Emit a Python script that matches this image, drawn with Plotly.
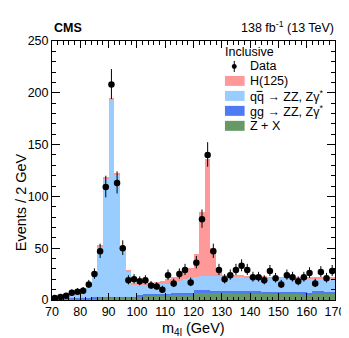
import plotly.graph_objects as go

# ---------------- data ----------------
bin_low = list(range(70, 170, 2))  # 50 bins of 2 GeV

data_counts = [2, 3, 4, 7, 8, 9, 15, 25, 47, 109,
               208, 113, 50, 19, 20, 18, 19, 14, 13, 10,
               24, 16, 25, 29, 17, 36, 78, 140, 47, 29,
               20, 24, 29, 33, 29, 22, 22, 19, 28, 21,
               15, 24, 22, 18, 22, 26, 16, 27, 21, 28]

zx = [1.2, 1.3, 1.4, 1.5, 1.6, 1.7, 1.8, 1.9, 2.0, 2.0,
      2.0, 2.0, 2.0, 2.0, 2.2, 3.5, 4.5, 4.5, 4.5, 4.5,
      5.0, 5.0, 5.0, 5.0, 5.5, 7.5, 7.5, 7.5, 7.0, 7.0,
      7.0, 7.0, 6.5, 6.5, 6.5, 6.5, 6.5, 6.0, 6.0, 6.0,
      6.0, 6.0, 6.0, 6.0, 5.5, 5.5, 6.5, 6.5, 6.0, 6.0]

ggzz = [0.3, 0.3, 0.4, 0.4, 0.5, 0.5, 0.6, 0.7, 0.8, 0.9,
        1.0, 0.9, 0.8, 0.8, 0.8, 1.0, 1.0, 1.1, 1.1, 1.2,
        1.2, 1.3, 1.3, 1.4, 1.4, 1.8, 1.8, 1.8, 1.8, 1.8,
        1.8, 1.8, 1.8, 1.8, 1.8, 1.8, 1.8, 1.8, 1.8, 1.8,
        1.8, 1.8, 1.8, 1.8, 1.8, 1.5, 1.8, 1.8, 1.8, 1.8]

qqzz = [2.0, 2.4, 2.7, 3.6, 4.9, 6.8, 10.6, 23.4, 49.2, 114.1,
        191.0, 118.1, 47.2, 24.7, 12.0, 10.0, 9.0, 8.9, 8.9, 9.3,
        9.3, 10.7, 12.2, 13.6, 14.6, 13.2, 13.7, 13.7, 14.2, 14.2,
        14.2, 13.7, 14.2, 14.2, 13.7, 13.7, 13.7, 14.2, 13.7, 13.7,
        13.7, 13.7, 13.7, 13.2, 13.7, 14.0, 12.7, 12.7, 13.2, 13.2]

higgs = [0.1, 0.1, 0.1, 0.1, 0.1, 0.1, 0.2, 0.3, 0.6, 0.8,
         1.0, 0.8, 0.6, 1.0, 0.8, 1.0, 1.5, 2.0, 2.5, 3.0,
         4.5, 5.5, 6.5, 8.0, 9.0, 22.0, 62.0, 113.0, 27.0, 4.0,
         1.5, 1.0, 0.8, 0.7, 0.6, 0.5, 0.4, 0.4, 0.4, 0.4,
         0.4, 0.3, 0.3, 0.3, 0.3, 0.3, 0.3, 0.3, 0.3, 0.3]

x_ticks = [70, 80, 90, 100, 110, 120, 130, 140, 150, 160, 170]
y_ticks = [0, 50, 100, 150, 200, 250]

# ---------------- styles ----------------
C_ZX = "#669966"
C_GG = "#4d7bf3"
C_QQ = "#99ccff"
C_H = "#ff9999"

W, H = 349, 338
L, R, T, B = 44, 17, 33, 45.5
PW, PH = W - L - R, H - T - B
FONT = "Liberation Sans, Arial, Helvetica, sans-serif"

centers = [b + 1 for b in bin_low]
err_up = [0.5 + (n + 0.25) ** 0.5 for n in data_counts]
err_dn = [-0.5 + (n + 0.25) ** 0.5 for n in data_counts]

fig = go.Figure()
for vals, col, name in [(zx, C_ZX, "Z+X"), (ggzz, C_GG, "gg"), (qqzz, C_QQ, "qq"), (higgs, C_H, "H")]:
    fig.add_trace(go.Bar(x=centers, y=vals, width=2, marker=dict(color=col, line=dict(width=0)),
                         name=name, showlegend=False))

fig.add_trace(go.Scatter(x=centers, y=data_counts, mode="markers",
                         marker=dict(color="black", size=6.5),
                         error_y=dict(type="data", symmetric=False, array=err_up, arrayminus=err_dn,
                                      color="black", thickness=1, width=0),
                         showlegend=False))


def px(xp):
    return (xp - L) / PW


def py(yp):
    return (H - B - yp) / PH


shapes = []
ann = []

# legend
ann.append(dict(x=px(218), y=py(44), xref="paper", yref="paper", text="Inclusive", showarrow=False,
                xanchor="left", yanchor="middle", font=dict(size=12.5, color="black", family=FONT)))
shapes.append(dict(type="line", xref="paper", yref="paper", x0=px(229.5), x1=px(229.5), y0=py(53), y1=py(64),
                   line=dict(color="black", width=1)))
shapes.append(dict(type="circle", xref="paper", yref="paper", x0=px(227), x1=px(232), y0=py(56), y1=py(61),
                   fillcolor="black", line=dict(color="black", width=0)))
ann.append(dict(x=px(243), y=py(58), xref="paper", yref="paper", text="Data", showarrow=False,
                xanchor="left", yanchor="middle", font=dict(size=12.5, color="black", family=FONT)))

entries = [(C_H, "H(125)", 73),
           (C_QQ, "qq \u2192 ZZ, Z\u03b3<sup>*</sup>", 88),
           (C_GG, "gg \u2192 ZZ, Z\u03b3<sup>*</sup>", 103),
           (C_ZX, "Z + X", 118)]
for col, txt, yc in entries:
    shapes.append(dict(type="rect", xref="paper", yref="paper", x0=px(220), x1=px(240),
                       y0=py(yc - 5), y1=py(yc + 5), fillcolor=col, line=dict(width=0)))
    ann.append(dict(x=px(243), y=py(yc), xref="paper", yref="paper", text=txt, showarrow=False,
                    xanchor="left", yanchor="middle", font=dict(size=12.5, color="black", family=FONT)))
# bar over the anti-quark
shapes.append(dict(type="line", xref="paper", yref="paper", x0=px(252.2), x1=px(258.2),
                   y0=py(83.5), y1=py(83.5), line=dict(color="black", width=1)))

# header texts
ann.append(dict(x=px(44), y=py(20), xref="paper", yref="paper", text="<b>CMS</b>", showarrow=False,
                xanchor="left", yanchor="middle", font=dict(size=12.5, color="black", family=FONT)))
ann.append(dict(x=px(333), y=py(19), xref="paper", yref="paper",
                text="138 fb<sup>-1</sup> (13 TeV)", showarrow=False,
                xanchor="right", yanchor="middle", font=dict(size=12.5, color="black", family=FONT)))
# axis titles
ann.append(dict(x=px(188), y=py(322), xref="paper", yref="paper",
                text="m<sub>4l</sub> (GeV)", showarrow=False,
                xanchor="center", yanchor="middle", font=dict(size=14.5, color="black", family=FONT)))
ann.append(dict(x=px(12), y=py(195), xref="paper", yref="paper",
                text="Events / 2 GeV", showarrow=False, textangle=-90,
                xanchor="center", yanchor="middle", font=dict(size=14.5, color="black", family=FONT)))

fig.update_layout(
    width=W, height=H,
    margin=dict(l=L, r=R, t=T, b=B, pad=0),
    paper_bgcolor="white", plot_bgcolor="white",
    barmode="stack", bargap=0,
    font=dict(family=FONT, size=12, color="black"),
    shapes=shapes, annotations=ann,
    showlegend=False,
)

xcommon = dict(range=[70, 170], tickvals=x_ticks, ticks="inside", ticklen=7, tickwidth=1,
               tickcolor="black", showline=True, linecolor="black", linewidth=1,
               showgrid=False, zeroline=False, tickfont=dict(size=12.5, family=FONT),
               minor=dict(ticks="inside", dtick=2, tick0=70, ticklen=3.5, tickcolor="black", showgrid=False),
               layer="above traces")
ycommon = dict(range=[0, 250], tickvals=y_ticks, ticks="inside", ticklen=8, tickwidth=1,
               tickcolor="black", showline=True, linecolor="black", linewidth=1,
               showgrid=False, zeroline=False, tickfont=dict(size=12.5, family=FONT),
               minor=dict(ticks="inside", dtick=10, tick0=0, ticklen=4, tickcolor="black", showgrid=False),
               layer="above traces")

fig.update_layout(
    xaxis=dict(**xcommon, side="bottom"),
    yaxis=dict(**ycommon, side="left"),
    xaxis2=dict(**xcommon, side="top", overlaying="x", anchor="y", showticklabels=False),
    yaxis2=dict(**ycommon, side="right", overlaying="y", anchor="x", showticklabels=False),
)
# invisible trace to activate the mirrored axes
fig.add_trace(go.Scatter(x=[70], y=[0], xaxis="x2", yaxis="y2", mode="markers",
                         marker=dict(opacity=0), hoverinfo="skip", showlegend=False))

fig.write_html("out.html")
